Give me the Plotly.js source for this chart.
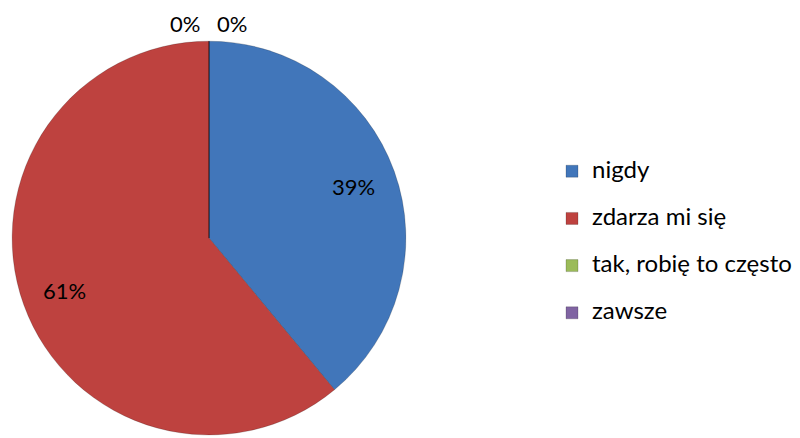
<!DOCTYPE html>
<html>
<head>
<meta charset="utf-8">
<script src="https://cdn.plot.ly/plotly-3.0.1.min.js"></script>
<style>
  html, body { margin: 0; padding: 0; background: #fff; }
  #chart { width: 800px; height: 438px; }
</style>
</head>
<body>
<div id="chart"></div>
<script>
const labels = ['nigdy', 'zdarza mi się', 'tak, robię to często', 'zawsze'];
const values = [39, 61, 0, 0];
const colors = ['#4176BA', '#BE423F', '#9BBB59', '#8064A2'];

const W = 800, H = 438;
const dom = {x: [0.015, 0.5075], y: [0.007, 0.906]};
const fontFam = 'Lato';
const labelSize = 24;

// two-line legend entries (second line blank) give the wide row spacing of the original,
// the visible line is drawn bigger than the legend font
const legendLabels = labels.map(l => '<span style="font-size:' + labelSize + 'px">' + l + '</span><br> ');

// percent labels placed like Excel: inside at ~0.78r, zero slices just above the rim
const total = values.reduce((a, b) => a + b, 0);
const cx = (dom.x[0] + dom.x[1]) / 2 * W;
const cy = (1 - (dom.y[0] + dom.y[1]) / 2) * H;
const r = Math.min((dom.x[1] - dom.x[0]) * W, (dom.y[1] - dom.y[0]) * H) / 2;
const zeroIdx = values.map((v, i) => v === 0 ? i : -1).filter(i => i >= 0);
const annotations = [];
let cum = 0;
values.forEach((v, i) => {
    const pct = Math.round(v / total * 100) + '%';
    let px, py;
    if (v > 0) {
        const a = 2 * Math.PI * (cum + v / 2) / total;
        px = cx + 0.78 * r * Math.sin(a);
        py = cy - 0.78 * r * Math.cos(a);
    } else {
        const a = 2 * Math.PI * cum / total;
        const k = zeroIdx.indexOf(i) - (zeroIdx.length - 1) / 2;
        px = cx + 1.08 * r * Math.sin(a) + k * 47;
        py = cy - 1.09 * r * Math.cos(a);
    }
    cum += v;
    annotations.push({
        x: px / W, y: 1 - py / H, xref: 'paper', yref: 'paper',
        xanchor: 'center', yanchor: 'middle', showarrow: false,
        text: pct, font: {family: fontFam, size: 22, color: '#000'}
    });
});

const data = [{
    type: 'pie',
    labels: legendLabels,
    values: values,
    sort: false,
    direction: 'clockwise',
    rotation: 0,
    textinfo: 'none',
    marker: {colors: colors, line: {color: 'rgba(0,0,0,0.18)', width: 1}},
    domain: dom,
    hoverinfo: 'label+percent'
}];

const layout = {
    width: W,
    height: H,
    margin: {l: 0, r: 0, t: 0, b: 0},
    paper_bgcolor: '#fff',
    showlegend: true,
    legend: {
        x: 0.69, y: 0.422, xanchor: 'left', yanchor: 'middle',
        valign: 'top',
        font: {family: fontFam, size: 17, color: '#000'}
    },
    annotations: annotations,
    font: {family: fontFam, color: '#000'}
};

Plotly.newPlot('chart', data, layout, {staticPlot: true});
</script>
</body>
</html>
